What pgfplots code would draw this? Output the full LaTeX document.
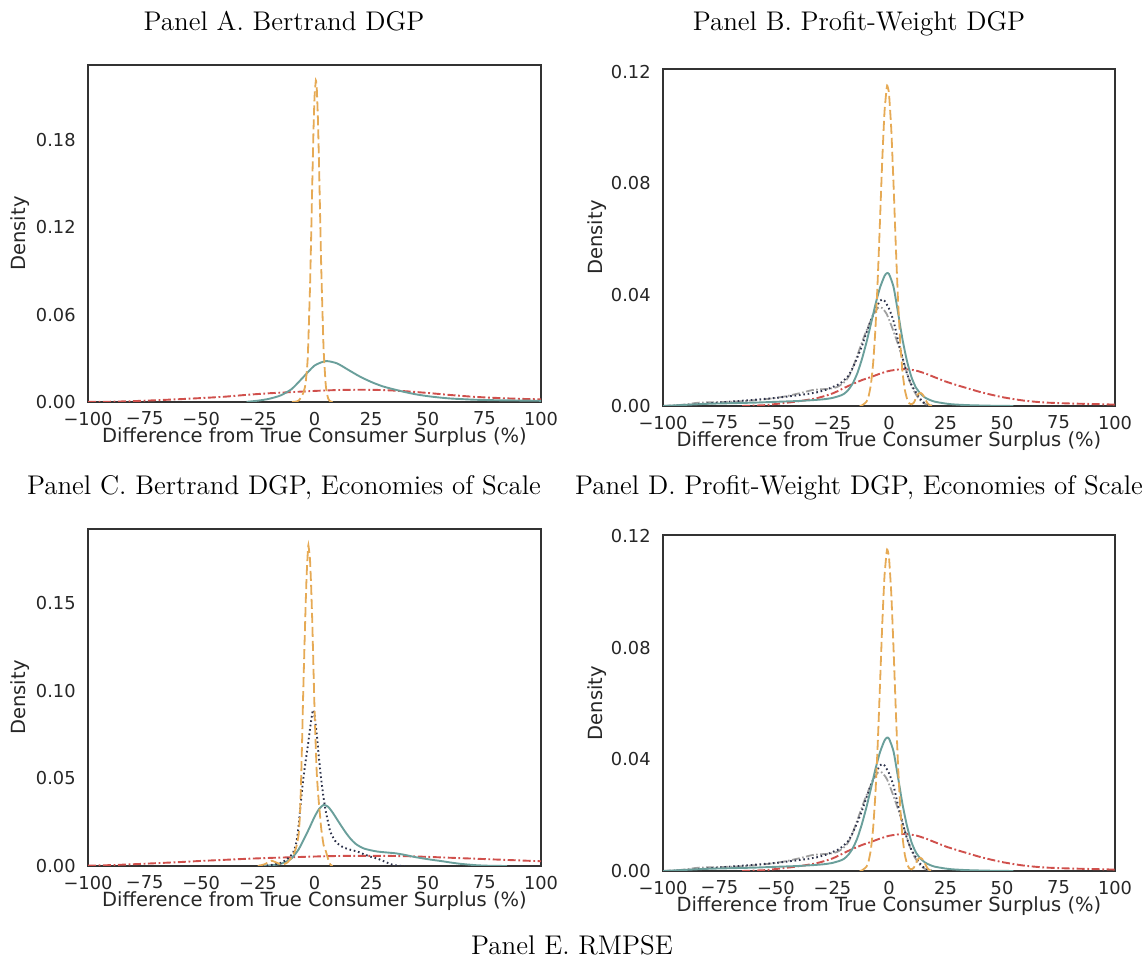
\documentclass[border=0pt]{standalone}
\usepackage{fontspec}
\usepackage{pgfplots}
\pgfplotsset{compat=1.18}
\newfontfamily\dejavu{DejaVu Sans}
\definecolor{corange}{HTML}{E6AA55}
\definecolor{cteal}{HTML}{6A9F9B}
\definecolor{cnavy}{HTML}{2D324B}
\definecolor{cgrey}{HTML}{A0A0A0}
\definecolor{cred}{HTML}{D0504C}
\definecolor{cframe}{HTML}{333333}
\definecolor{ctext}{HTML}{262626}

\newcommand{\labfont}{\dejavu\fontsize{9.75}{12}\selectfont}
\newcommand{\titfont}{\fontsize{13.5}{16}\selectfont}

\pgfplotsset{
  densaxis/.style={
    scale only axis,
    anchor=south west,
    xmin=-100, xmax=100, ymin=0,
    xtick={-100,-75,-50,-25,0,25,50,75,100},
    xticklabels={−100,−75,−50,−25,0,25,50,75,100},
    tick style={draw=none},
    major tick length=0pt,
    axis line style={draw=cframe, line width=0.8pt},
    ticklabel style={font=\dejavu\fontsize{8.9}{10}\selectfont, inner sep=0pt, text=ctext},
    xticklabel style={anchor=north, yshift=-4.75pt},
    yticklabel style={anchor=east, xshift=-6pt},
    xlabel={Difference from True Consumer Surplus (\%)},
    ylabel={Density},
    every axis x label/.style={at={(axis description cs:0.5,0)}, anchor=center, yshift=-17.5pt, font=\labfont, inner sep=0pt, text=ctext},
    every axis y label/.style={at={(axis description cs:-0.15,0.5)}, anchor=center, rotate=90, font=\labfont, inner sep=0pt, text=ctext},
    clip=true,
  },
  lorange/.style={color=corange, line width=0.9pt, dash pattern=on 5pt off 2pt, smooth, tension=0.3},
  lteal/.style={color=cteal, line width=0.95pt, smooth, tension=0.4},
  lnavy/.style={color=cnavy, line width=0.95pt, dash pattern=on 0.8pt off 1.4pt, smooth, tension=0.4},
  lgrey/.style={color=cgrey, line width=0.9pt, dash pattern=on 4pt off 1.2pt on 0.8pt off 1.2pt, smooth, tension=0.4},
  lred/.style={color=cred, line width=0.95pt, dash pattern=on 4pt off 1.3pt on 0.9pt off 1.3pt, smooth, tension=0.4},
}

\begin{document}
\begin{tikzpicture}
\useasboundingbox (0,0) rectangle (571.5pt,480.5pt);

% ---------------- Panel A ----------------
\begin{axis}[densaxis, at={(44pt,279.5pt)}, width=226.5pt, height=168.5pt,
  ymax=0.2316, ytick={0,0.06,0.12,0.18}, yticklabels={0.00,0.06,0.12,0.18}]
\addplot[lred] coordinates {(-100,0.0001)(-90,0.0002)(-80,0.0006)(-70,0.0012)(-60,0.0019)(-50,0.0027)(-40,0.0036)(-30,0.0049)(-20,0.006)(-10,0.0068)(0,0.0076)(10,0.0082)(20,0.0084)(30,0.0082)(40,0.0074)(50,0.0062)(60,0.0048)(70,0.0036)(80,0.0028)(90,0.0022)(100,0.0018)};
\addplot[lteal] coordinates {(-30,0.0001)(-25,0.0009)(-20,0.0022)(-15,0.0045)(-10,0.009)(-5,0.017)(0,0.025)(5,0.0281)(10,0.0265)(15,0.022)(20,0.0175)(25,0.0138)(30,0.0108)(35,0.0087)(40,0.0068)(45,0.0052)(50,0.004)(55,0.0031)(60,0.0024)(70,0.0016)(80,0.0012)(90,0.001)(100,0.0008)};
\addplot[lorange] coordinates {(-10,0)(-8,0.0003)(-7,0.001)(-6,0.003)(-5,0.006)(-4,0.012)(-3,0.0299)(-2,0.0779)(-1.5,0.1119)(-1,0.1489)(-0.5,0.1834)(0,0.2091)(0.6,0.221)(1,0.2156)(1.5,0.195)(2,0.1633)(2.5,0.1266)(3,0.0909)(4,0.0371)(5,0.0111)(6,0.0025)(7,0.0004)(8,0)};
\end{axis}

% ---------------- Panel B ----------------
\begin{axis}[densaxis, at={(331.5pt,277.5pt)}, width=226pt, height=168.5pt,
  ymax=0.1211, ytick={0,0.04,0.08,0.12}, yticklabels={0.00,0.04,0.08,0.12},
  every axis y label/.style={at={(axis description cs:-0.146,0.5)}, anchor=center, rotate=90, font=\labfont, inner sep=0pt, text=ctext}]
\addplot[lred] coordinates {(-65,0)(-55,0.0003)(-47,0.001)(-40,0.0017)(-32,0.0028)(-25,0.0045)(-18,0.0072)(-12,0.0093)(-8,0.0104)(-4,0.0116)(0,0.0126)(5,0.0132)(8,0.0132)(12,0.0127)(16,0.0117)(20,0.0104)(25,0.0088)(30,0.0075)(35,0.0063)(40,0.0051)(45,0.0041)(50,0.0032)(55,0.0025)(60,0.0019)(65,0.0015)(70,0.0012)(80,0.0009)(90,0.0007)(100,0.0005)};
\addplot[lgrey] coordinates {(-100,0)(-92,0.0004)(-84,0.0012)(-75,0.0014)(-65,0.0017)(-55,0.0024)(-47,0.0033)(-40,0.0045)(-34,0.0057)(-30,0.006)(-26,0.0062)(-23,0.0068)(-21,0.0078)(-19,0.0092)(-17,0.0118)(-15,0.016)(-13,0.0205)(-11,0.025)(-9,0.029)(-7,0.0325)(-5,0.0352)(-4,0.0355)(-3,0.0352)(-1,0.033)(1,0.029)(3,0.0245)(5,0.0198)(7,0.0145)(9,0.0092)(11,0.0055)(13,0.0028)(15,0.0012)(17,0.0004)(19,0)};
\addplot[lnavy] coordinates {(-100,0)(-92,0.0002)(-85,0.0006)(-76,0.0012)(-68,0.0017)(-60,0.0022)(-50,0.0029)(-45,0.0034)(-38,0.0041)(-32,0.0049)(-28,0.0058)(-25,0.0068)(-22,0.0079)(-20,0.0092)(-18,0.0108)(-16,0.0138)(-14,0.0175)(-12,0.0215)(-10,0.0263)(-8,0.0308)(-6,0.0348)(-4,0.0378)(-3,0.0383)(-2,0.0378)(0,0.035)(2,0.0305)(4,0.0235)(6,0.0172)(8,0.0115)(10,0.0075)(12,0.0048)(14,0.0024)(16,0.0008)(18,0.0002)(20,0)};
\addplot[lteal] coordinates {(-100,0)(-95,0.0002)(-90,0.0004)(-85,0.0006)(-80,0.0008)(-70,0.001)(-60,0.0012)(-50,0.0015)(-40,0.0018)(-32,0.0022)(-28,0.0025)(-25,0.0029)(-22,0.0036)(-20,0.0043)(-18,0.0058)(-16,0.0082)(-14,0.0118)(-12,0.0168)(-10,0.0228)(-8,0.0295)(-6,0.0365)(-4,0.0425)(-2,0.0467)(-1,0.0477)(0,0.0474)(2,0.0428)(4,0.0335)(6,0.0238)(8,0.016)(10,0.0102)(12,0.0065)(14,0.0044)(16,0.003)(18,0.0022)(20,0.0016)(24,0.001)(28,0.0006)(35,0.0003)(45,0.0001)(55,0)};
\addplot[lorange] coordinates {(-13,0)(-12,0.0002)(-10,0.0015)(-9,0.0036)(-8,0.0078)(-7,0.0156)(-6,0.0279)(-5,0.0453)(-4,0.0664)(-3,0.0881)(-2,0.1056)(-1,0.1145)(-0.7,0.115)(0,0.1122)(1,0.0994)(2,0.0797)(3,0.0577)(4,0.0378)(5,0.0224)(6,0.012)(7,0.0058)(8,0.0025)(9,0.0009)(10,0.0006)(11,0.0012)(12,0.003)(13,0.0044)(14,0.0047)(15,0.004)(16,0.0025)(17,0.001)(18,0.0003)(19,0)};
\end{axis}

% ---------------- Panel C ----------------
\begin{axis}[densaxis, at={(44pt,47.5pt)}, width=226.5pt, height=168.5pt,
  ymax=0.1922, ytick={0,0.05,0.10,0.15}, yticklabels={0.00,0.05,0.10,0.15}]
\addplot[lred] coordinates {(-100,0.0002)(-90,0.0005)(-80,0.001)(-70,0.0016)(-60,0.0022)(-50,0.0029)(-40,0.0035)(-30,0.0041)(-20,0.0046)(-10,0.005)(0,0.0054)(10,0.0057)(20,0.0058)(30,0.0058)(40,0.0056)(50,0.0052)(60,0.0047)(70,0.0042)(80,0.0037)(90,0.0032)(100,0.0027)};
\addplot[lteal] coordinates {(-25,0)(-20,0.0003)(-15,0.0012)(-12,0.0028)(-10,0.0045)(-7,0.0095)(-4,0.017)(-2,0.0224)(0,0.028)(2,0.0325)(4,0.0348)(6,0.0338)(8,0.0305)(10,0.0265)(12,0.0225)(14,0.0187)(16,0.0154)(18,0.0128)(20,0.0111)(22,0.0099)(25,0.0089)(28,0.0082)(32,0.0077)(36,0.0072)(40,0.0063)(44,0.0052)(48,0.0043)(52,0.0035)(56,0.0028)(60,0.002)(64,0.0013)(68,0.0008)(72,0.0004)(78,0.0001)(85,0)};
\addplot[lnavy] coordinates {(-25,0)(-20,0.0004)(-15,0.0017)(-12,0.004)(-10,0.0065)(-9,0.009)(-8,0.0135)(-7,0.023)(-6,0.037)(-5,0.049)(-4,0.059)(-3,0.068)(-2,0.078)(-1,0.087)(-0.5,0.089)(0,0.086)(1,0.075)(2,0.061)(3,0.049)(4,0.039)(5,0.031)(6,0.025)(7,0.0195)(9,0.0145)(11,0.012)(13,0.0105)(16,0.0092)(19,0.0082)(22,0.0066)(25,0.0052)(28,0.0041)(31,0.0025)(34,0.0009)(37,0.0001)(40,0)};
\addplot[lorange] coordinates {(-25,0)(-22,0.001)(-19,0.003)(-16,0.0015)(-14,0.0008)(-12,0.002)(-10,0.005)(-9,0.0074)(-8,0.011)(-7,0.018)(-6.4,0.03)(-6,0.045)(-5.5,0.07)(-5,0.098)(-4.5,0.122)(-4,0.145)(-3.5,0.165)(-3,0.178)(-2.7,0.183)(-2,0.175)(-1.5,0.16)(-1,0.14)(-0.5,0.115)(0,0.09)(0.5,0.07)(1,0.053)(1.5,0.043)(2,0.035)(2.5,0.028)(3,0.021)(4,0.012)(5,0.0085)(6,0.004)(7,0.0008)(8,0)};
\end{axis}

% ---------------- Panel D ----------------
\begin{axis}[densaxis, at={(331.5pt,45pt)}, width=226pt, height=168pt,
  ymax=0.1203, ytick={0,0.04,0.08,0.12}, yticklabels={0.00,0.04,0.08,0.12},
  every axis y label/.style={at={(axis description cs:-0.146,0.5)}, anchor=center, rotate=90, font=\labfont, inner sep=0pt, text=ctext}]
\addplot[lred] coordinates {(-65,0)(-55,0.0003)(-47,0.001)(-40,0.0017)(-32,0.0028)(-25,0.0045)(-18,0.0072)(-12,0.0093)(-8,0.0104)(-4,0.0116)(0,0.0126)(5,0.0132)(8,0.0132)(12,0.0127)(16,0.0117)(20,0.0104)(25,0.0088)(30,0.0075)(35,0.0063)(40,0.0051)(45,0.0041)(50,0.0032)(55,0.0025)(60,0.0019)(65,0.0015)(70,0.0012)(80,0.0009)(90,0.0007)(100,0.0005)};
\addplot[lgrey] coordinates {(-100,0)(-92,0.0004)(-84,0.0012)(-75,0.0014)(-65,0.0017)(-55,0.0024)(-47,0.0033)(-40,0.0045)(-34,0.0057)(-30,0.006)(-26,0.0062)(-23,0.0068)(-21,0.0078)(-19,0.0092)(-17,0.0118)(-15,0.016)(-13,0.0205)(-11,0.025)(-9,0.029)(-7,0.0325)(-5,0.0352)(-4,0.0355)(-3,0.0352)(-1,0.033)(1,0.029)(3,0.0245)(5,0.0198)(7,0.0145)(9,0.0092)(11,0.0055)(13,0.0028)(15,0.0012)(17,0.0004)(19,0)};
\addplot[lnavy] coordinates {(-100,0)(-92,0.0002)(-85,0.0006)(-76,0.0012)(-68,0.0017)(-60,0.0022)(-50,0.0029)(-45,0.0034)(-38,0.0041)(-32,0.0049)(-28,0.0058)(-25,0.0068)(-22,0.0079)(-20,0.0092)(-18,0.0108)(-16,0.0138)(-14,0.0175)(-12,0.0215)(-10,0.0263)(-8,0.0308)(-6,0.0348)(-4,0.0378)(-3,0.0383)(-2,0.0378)(0,0.035)(2,0.0305)(4,0.0235)(6,0.0172)(8,0.0115)(10,0.0075)(12,0.0048)(14,0.0024)(16,0.0008)(18,0.0002)(20,0)};
\addplot[lteal] coordinates {(-100,0)(-95,0.0002)(-90,0.0004)(-85,0.0006)(-80,0.0008)(-70,0.001)(-60,0.0012)(-50,0.0015)(-40,0.0018)(-32,0.0022)(-28,0.0025)(-25,0.0029)(-22,0.0036)(-20,0.0043)(-18,0.0058)(-16,0.0082)(-14,0.0118)(-12,0.0168)(-10,0.0228)(-8,0.0295)(-6,0.0365)(-4,0.0425)(-2,0.0467)(-1,0.0477)(0,0.0474)(2,0.0428)(4,0.0335)(6,0.0238)(8,0.016)(10,0.0102)(12,0.0065)(14,0.0044)(16,0.003)(18,0.0022)(20,0.0016)(24,0.001)(28,0.0006)(35,0.0003)(45,0.0001)(55,0)};
\addplot[lorange] coordinates {(-13,0)(-12,0.0002)(-10,0.0015)(-9,0.0036)(-8,0.0078)(-7,0.0156)(-6,0.0279)(-5,0.0453)(-4,0.0664)(-3,0.0881)(-2,0.1056)(-1,0.1145)(-0.7,0.115)(0,0.1122)(1,0.0994)(2,0.0797)(3,0.0577)(4,0.0378)(5,0.0224)(6,0.012)(7,0.0058)(8,0.0025)(9,0.0009)(10,0.0006)(11,0.0012)(12,0.003)(13,0.0044)(14,0.0047)(15,0.004)(16,0.0025)(17,0.001)(18,0.0003)(19,0)};
\end{axis}

% ---------------- Titles ----------------
\node[anchor=base, inner sep=0pt, font=\titfont] at (142pt,465pt) {Panel A. Bertrand DGP};
\node[anchor=base, inner sep=0pt, font=\titfont] at (429.5pt,465pt) {Panel B. Profit-Weight DGP};
\node[anchor=base, inner sep=0pt, font=\titfont] at (142pt,233pt) {Panel C. Bertrand DGP, Economies of Scale};
\node[anchor=base, inner sep=0pt, font=\titfont] at (429.5pt,233pt) {Panel D. Profit-Weight DGP, Economies of Scale};
\node[anchor=base, inner sep=0pt, font=\titfont] at (286pt,3pt) {Panel E. RMPSE};
\end{tikzpicture}
\end{document}
